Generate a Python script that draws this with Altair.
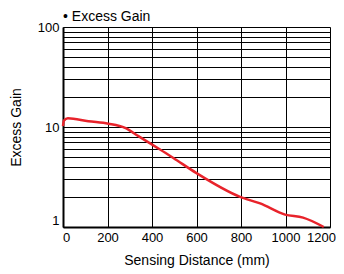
import altair as alt
import pandas as pd

distance = [0, 4, 22, 114, 204, 279, 339, 399, 436, 496, 598, 796, 886, 998, 1079, 1172]
gain = [10.2, 11.6, 12.2, 11.4, 10.8, 9.8, 8.1, 6.7, 5.96, 4.9, 3.48, 2.0, 1.72, 1.33, 1.24, 1.0]

x_ticks = [0, 200, 400, 600, 800, 1000, 1200]
y_grid = [1, 2, 3, 4, 5, 6, 7, 8, 9, 10, 20, 30, 40, 50, 60, 70, 80, 90, 100]
y_labels = [1, 10, 100]

df = pd.DataFrame({"distance": distance, "gain": gain})

FONT = "Liberation Sans"

label_expr = " || ".join(f"datum.value == {v}" for v in y_labels)

chart = (
    alt.Chart(df)
    .mark_line(color="#e8232b", strokeWidth=2.5, interpolate="monotone")
    .encode(
        x=alt.X(
            "distance:Q",
            scale=alt.Scale(domain=[0, 1200], nice=False, zero=False),
            axis=alt.Axis(
                values=x_ticks,
                format="d",
                title="Sensing Distance (mm)",
                titleFont=FONT,
                titleFontSize=14,
                titleFontWeight="normal",
                titleColor="black",
                titlePadding=9,
                labelFont=FONT,
                labelFontSize=13,
                labelColor="black",
                labelPadding=4,
                labelOffset=alt.ExprRef("datum.value == 0 ? 3 : datum.value == 1200 ? -9 : 0"),
                tickSize=0,
                domainColor="black",
                domainWidth=2,
                grid=True,
                gridColor="black",
                gridWidth=1,
                gridOpacity=1,
                labelFlush=False,
                labelOverlap=False,
            ),
        ),
        y=alt.Y(
            "gain:Q",
            scale=alt.Scale(type="log", domain=[1, 100], nice=False),
            axis=alt.Axis(
                values=y_grid,
                labelExpr=f"({label_expr}) ? datum.label : ''",
                labelBaseline=alt.ExprRef("datum.value == 1 ? 'bottom' : 'middle'"),
                title="Excess Gain",
                titleFont=FONT,
                titleFontSize=14,
                titleFontWeight="normal",
                titleColor="black",
                titlePadding=14,
                labelFont=FONT,
                labelFontSize=13,
                labelColor="black",
                labelPadding=4,
                tickSize=0,
                domainColor="black",
                domainWidth=2,
                grid=True,
                gridColor="black",
                gridWidth=1,
                gridOpacity=1,
                labelFlush=False,
                labelOverlap=False,
            ),
        ),
    )
    .properties(
        width=267,
        height=200,
        title=alt.TitleParams(
            "• Excess Gain",
            anchor="start",
            frame="group",
            font=FONT,
            fontSize=14,
            fontWeight="normal",
            color="black",
            offset=8,
            dy=11,
        ),
        autosize=alt.AutoSizeParams(type="none"),
        padding={"left": 55, "top": 19, "right": 6, "bottom": 47},
    )
    .configure_view(stroke="black", strokeWidth=1.5)
    .configure(background="white")
)

chart.save("out.html", embed_options={"renderer": "svg", "actions": False})
